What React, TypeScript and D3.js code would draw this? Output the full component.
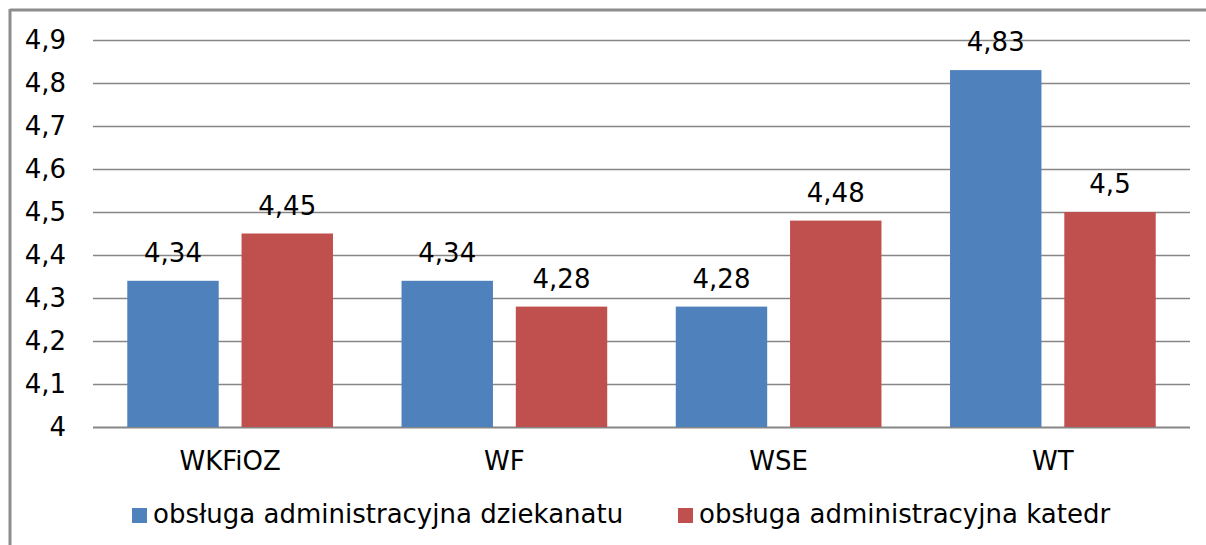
import React from "react";
import * as d3 from "d3";

const categories = ["WKFiOZ", "WF", "WSE", "WT"];
const seriesNames = ["obsługa administracyjna dziekanatu", "obsługa administracyjna katedr"];
const dziekanat = [4.34, 4.34, 4.28, 4.83];
const katedr = [4.45, 4.28, 4.48, 4.5];
const yTicks = [4, 4.1, 4.2, 4.3, 4.4, 4.5, 4.6, 4.7, 4.8, 4.9];
const colors = ["#4F81BD", "#C0504D"];

const W = 1206;
const H = 545;
const font = "Verdana, 'DejaVu Sans', sans-serif";
const fs = 26;

export default function App() {
  const left = 93;
  const right = 1190;
  const x = d3.scaleBand<string>().domain(categories).range([left, right]).paddingInner(0).paddingOuter(0);
  const y = d3.scaleLinear().domain([4, 4.9]).range([427, 40]);
  const inner = d3.scaleBand<number>().domain([0, 1]).range([0, x.bandwidth()]).paddingInner(0.2).paddingOuter(0.3);
  const fmt = (v: number) => String(v).replace(".", ",");
  const series = [dziekanat, katedr];
  const legendX = [132, 678];

  return (
    <svg width={W} height={H} style={{ position: "absolute", left: 0, top: 0, display: "block" }}>
      <rect x={0} y={0} width={W} height={H} fill="#fff" />
      {/* frame */}
      <line x1={10} x2={W} y1={10} y2={10} stroke="#8c8c8c" strokeWidth={3} />
      <line x1={10} x2={10} y1={9} y2={H} stroke="#8c8c8c" strokeWidth={3} />
      {/* gridlines */}
      {yTicks.map((t) => (
        <g key={t}>
          <line x1={left} x2={right} y1={Math.round(y(t)) + 0.5} y2={Math.round(y(t)) + 0.5} stroke="#868686" strokeWidth={t === 4 ? 2 : 1.3} />
          <text x={66} y={y(t)} dy="0.36em" textAnchor="end" fontFamily={font} fontSize={fs} fill="#000">
            {fmt(t)}
          </text>
        </g>
      ))}
      {/* bars */}
      {categories.map((c, i) => (
        <g key={c}>
          {series.map((s, j) => {
            const bx = (x(c) as number) + (inner(j) as number);
            const bw = inner.bandwidth();
            return (
              <g key={j}>
                <rect x={bx} y={y(s[i])} width={bw} height={y(4) - y(s[i])} fill={colors[j]} />
                <text x={bx + bw / 2} y={y(s[i]) - 19} textAnchor="middle" fontFamily={font} fontSize={fs} fill="#000">
                  {fmt(s[i])}
                </text>
              </g>
            );
          })}
          <text x={(x(c) as number) + x.bandwidth() / 2} y={470} textAnchor="middle" fontFamily={font} fontSize={fs} fill="#000">
            {c}
          </text>
        </g>
      ))}
      {/* legend */}
      {seriesNames.map((n, j) => {
        const lx = legendX[j];
        return (
          <g key={n}>
            <rect x={lx} y={508} width={15} height={15} fill={colors[j]} />
            <text x={lx + 21} y={523} fontFamily={font} fontSize={fs} fill="#000">
              {n}
            </text>
          </g>
        );
      })}
    </svg>
  );
}
